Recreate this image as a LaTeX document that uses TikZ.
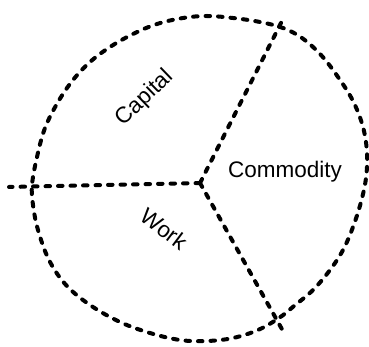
\documentclass[tikz,border=0pt]{standalone}
\usepackage{fontspec}
\setmainfont{Liberation Sans}
\begin{document}
\begin{tikzpicture}[x=1pt,y=-1pt,
  ink/.style={line width=4pt, line cap=round, dash pattern=on 4.5pt off 8pt},
  lbl/.style={font=\fontsize{22.5}{26}\selectfont, inner sep=0pt}]
\useasboundingbox (0,0) rectangle (369,347);
\coordinate (c) at (200,183);
\coordinate (l) at (9,187);
\coordinate (tr) at (283,19);
\coordinate (br) at (283,331);
% outline
\draw[ink] plot[smooth cycle, tension=0.6] coordinates {
 (32,185) (37,157) (45,128) (58,102) (73,80) (90,62) (110,47) (133,34) (157,24) (183,18) (207,16) (233,18) (260,22) (283,28)
 (302,38) (321,55) (338,77) (353,101) (363,127) (367,153) (366,178) (361,202) (353,227) (343,250) (330,270) (313,290) (294,306) (279,318)
 (258,330) (233,338) (207,341) (180,340) (150,333) (120,322) (90,305) (66,285) (49,260) (38,230) (33,205)};
% spokes
\draw[ink] (c) -- (l);
\draw[ink] (c) -- (tr);
\draw[ink] (c) -- (br);
% labels
\node[lbl, rotate=44] (cap) at (145,98) {Capital};
\node[lbl] (com) at (285,172) {Commodity};
\node[lbl, rotate=-37] (wrk) at (164,229) {Work};
\end{tikzpicture}
\end{document}
